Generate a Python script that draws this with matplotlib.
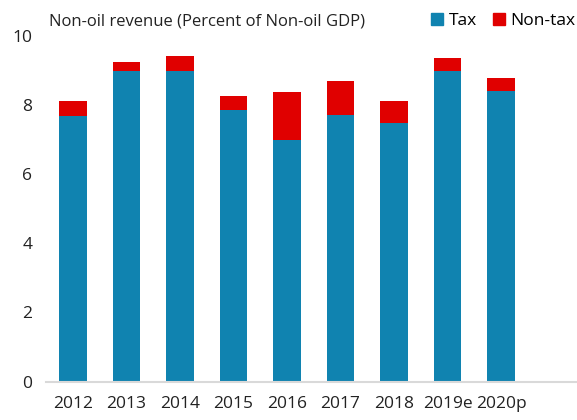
import matplotlib
matplotlib.use("Agg")
import matplotlib.pyplot as plt
from matplotlib.patches import Patch

plt.rcParams['font.family'] = ['Open Sans', 'DejaVu Sans']

annees = ["2012", "2013", "2014", "2015", "2016", "2017", "2018", "2019e", "2020p"]
impots = [7.69, 8.97, 8.97, 7.84, 6.98, 7.72, 7.48, 8.99, 8.40]
non_impots = [0.41, 0.26, 0.43, 0.41, 1.39, 0.98, 0.62, 0.36, 0.39]

bleu = "#1083B0"
rouge = "#E00000"

fig = plt.figure(figsize=(5.77, 4.20), dpi=100)
ax = fig.add_axes([46.25 / 577, 38.3 / 420, (577 - 46.25) / 577, 346 / 420])

x = range(len(annees))
ax.bar(x, impots, width=0.51, color=bleu, zorder=2)
ax.bar(x, non_impots, width=0.51, bottom=impots, color=rouge, zorder=2)

ax.set_xlim(-0.5, 9.42)
ax.set_ylim(0, 10)
ax.set_yticks([0, 2, 4, 6, 8, 10])
ax.set_xticks(list(x))
ax.set_xticklabels(annees)
ax.tick_params(axis="both", length=0, labelsize=12.5, colors="#222222")
ax.tick_params(axis="x", pad=10)
ax.tick_params(axis="y", pad=10)

for s in ["top", "right", "left"]:
    ax.spines[s].set_visible(False)
ax.spines["bottom"].set_color("#D9D9D9")
ax.spines["bottom"].set_linewidth(1.5)

fig.text(49 / 577, 1 - 21 / 420, "Non-oil revenue (Percent of Non-oil GDP)",
         fontsize=12, color="#222222", va="center", ha="left")

# legende : on la garde entiere dans la figure
handles = [Patch(color=bleu, label="Tax"), Patch(color=rouge, label="Non-tax")]
fig.legend(handles=handles, loc="center right", bbox_to_anchor=(575 / 577, 1 - 21 / 420),
           ncol=2, frameon=False, fontsize=12.5, handlelength=0.7, handleheight=0.7,
           handletextpad=0.3, columnspacing=0.9, borderaxespad=0, borderpad=0)

fig.savefig("out.png", dpi=100)
